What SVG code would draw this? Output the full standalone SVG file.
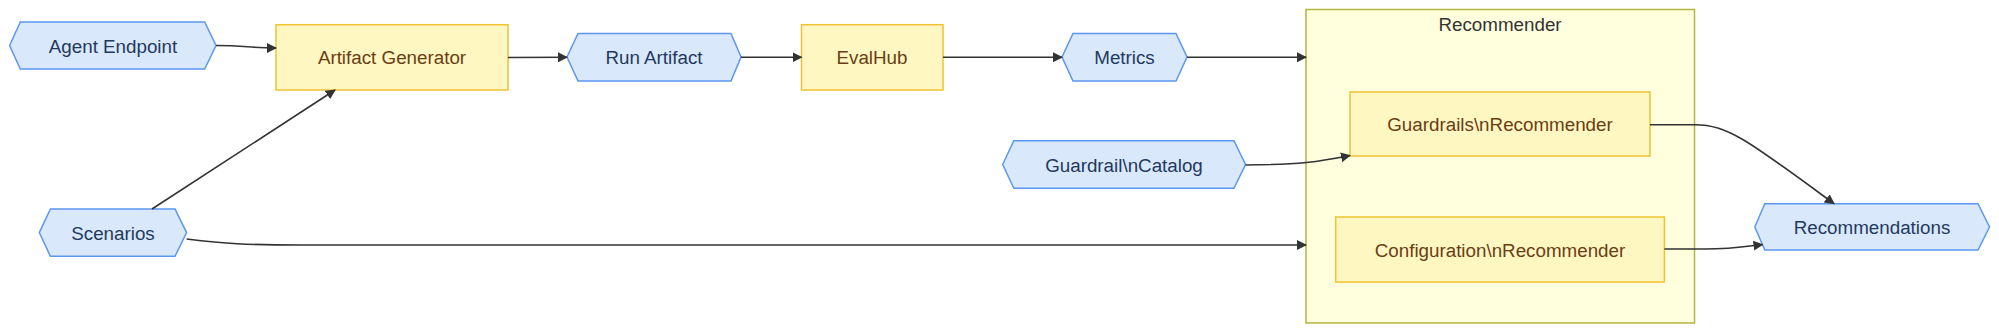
<svg xmlns="http://www.w3.org/2000/svg" width="1999" height="334" viewBox="0 0 1999 334">
<defs>
<marker id="arr" viewBox="0 0 10 10" refX="9" refY="5" markerWidth="10" markerHeight="10" markerUnits="userSpaceOnUse" orient="auto">
<path d="M0,0 L10,5 L0,10 z" fill="#333"/>
</marker>
<style>
text{font-family:"Trebuchet MS","Liberation Sans",Arial,sans-serif;font-size:18.8px;text-anchor:middle;dominant-baseline:central}
.hex{fill:#dae8fc;stroke:#5b97f0;stroke-width:1.5}
.hex-t{fill:#1f3a5f}
.box{fill:#fff7c2;stroke:#f0c233;stroke-width:1.5}
.box-t{fill:#6b3d14}
.cl{fill:#ffffde;stroke:#b5b540;stroke-width:1.5}
.cl-t{fill:#333}
.edge{fill:none;stroke:#333;stroke-width:1.6;marker-end:url(#arr)}
</style>
</defs>
<rect width="1999" height="334" fill="#fff"/>
<g id="cluster-Recommender">
<rect class="cl" x="1306" y="9.5" width="388.5" height="313.5"/>
<text class="cl-t" x="1500" y="24">Recommender</text>
</g>
<g id="node-AgentEndpoint">
<polygon class="hex" points="9.6,45.5 20.3,22 204.7,22 216,45.5 204.7,69 20.3,69"/>
<text class="hex-t" x="113" y="46">Agent Endpoint</text>
</g>
<g id="node-ArtifactGenerator">
<rect class="box" x="276" y="24.7" width="232" height="65.3"/>
<text class="box-t" x="392" y="57.5">Artifact Generator</text>
</g>
<g id="node-RunArtifact">
<polygon class="hex" points="567,57 578,33.5 731,33.5 741,57 731,81 578,81"/>
<text class="hex-t" x="654" y="57.5">Run Artifact</text>
</g>
<g id="node-EvalHub">
<rect class="box" x="801.5" y="24.7" width="141.5" height="65.3"/>
<text class="box-t" x="872" y="57.5">EvalHub</text>
</g>
<g id="node-Metrics">
<polygon class="hex" points="1062,57 1073,33.5 1176,33.5 1187,57 1176,81 1073,81"/>
<text class="hex-t" x="1124.5" y="57.5">Metrics</text>
</g>
<g id="node-Scenarios">
<polygon class="hex" points="39.3,232.6 50.4,209 175,209 186.6,232.6 175,256.3 50.4,256.3"/>
<text class="hex-t" x="113" y="233">Scenarios</text>
</g>
<g id="node-GuardrailCatalog">
<polygon class="hex" points="1002.7,164.5 1013.8,140.7 1234,140.7 1245.5,164.5 1234,188.3 1013.8,188.3"/>
<text class="hex-t" x="1124" y="165">Guardrail\nCatalog</text>
</g>
<g id="node-GuardrailsRecommender">
<rect class="box" x="1350" y="92" width="300" height="64"/>
<text class="box-t" x="1500" y="124.5">Guardrails\nRecommender</text>
</g>
<g id="node-ConfigurationRecommender">
<rect class="box" x="1335.7" y="217" width="328.7" height="65"/>
<text class="box-t" x="1500" y="250">Configuration\nRecommender</text>
</g>
<g id="node-Recommendations">
<polygon class="hex" points="1754.8,227 1764.8,203.7 1978,203.7 1989.5,227 1978,250 1764.8,250"/>
<text class="hex-t" x="1872" y="227.5">Recommendations</text>
</g>
<g id="connectors">
<path class="edge" d="M216,45.5 C245,45.5 250,48 276,48"/>
<path class="edge" d="M152,209 L335,90"/>
<path class="edge" d="M508,57.5 L567,57.3"/>
<path class="edge" d="M741,57.3 L801.5,57.3"/>
<path class="edge" d="M943,57.3 L1062,57.3"/>
<path class="edge" d="M1187,57.3 L1306,57.3"/>
<path class="edge" d="M186.6,239 C225,243.5 245,245 300,245 L1306,245"/>
<path class="edge" d="M1245.5,165 C1300,164.5 1318,162 1350,155.5"/>
<path class="edge" d="M1650,124.7 L1695,124.7 C1728,124.7 1750,142 1834,203.7"/>
<path class="edge" d="M1664.4,249 L1705,249 C1730,249 1742,247 1762.5,244.5"/>
</g>
</svg>
